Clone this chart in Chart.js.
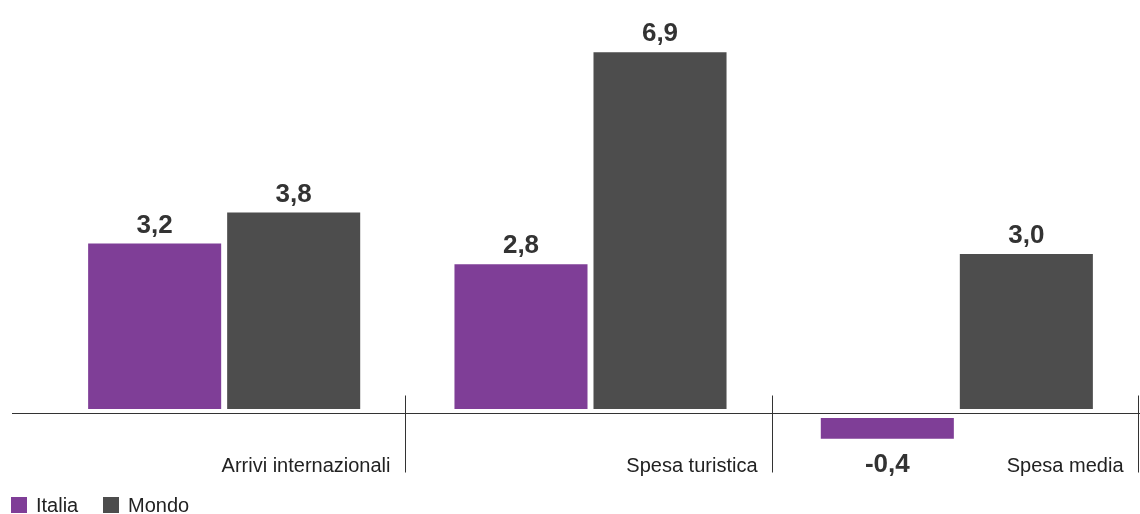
<!DOCTYPE html>
<html>
<head>
<meta charset="utf-8">
<script src="https://cdn.jsdelivr.net/npm/chart.js@4"></script>
<style>
html,body{margin:0;padding:0;background:#fff;}
#wrap{width:1140px;height:514px;position:relative;}
</style>
</head>
<body>
<div id="wrap"><canvas id="c"></canvas></div>
<script>
const categories = ["Arrivi internazionali", "Spesa turistica", "Spesa media"];
const seriesNames = ["Italia", "Mondo"];
const italia = [3.2, 2.8, -0.4];
const mondo = [3.8, 6.9, 3.0];
const colors = ["#7f3e97", "#4d4d4d"];

const FONT = "'Liberation Sans', Arial, sans-serif";
const TEXT = "#333333";
const GAP = 4.5;

const decor = {
  id: 'decor',
  afterDatasetsUpdate(chart) {
    chart.data.datasets.forEach((ds, di) => {
      const meta = chart.getDatasetMeta(di);
      meta.data.forEach((el, i) => {
        const v = ds.data[i];
        const s = v >= 0 ? -GAP : GAP;
        el.y += s;
        el.base += s;
      });
    });
  },
  beforeDatasetsDraw(chart) {
    const ctx = chart.ctx;
    const ca = chart.chartArea;
    const y0 = Math.round(chart.scales.y.getPixelForValue(0)) + 0.5;
    ctx.save();
    ctx.strokeStyle = "#333";
    ctx.lineWidth = 1;
    ctx.beginPath();
    ctx.moveTo(12, y0);
    ctx.lineTo(ca.right, y0);
    ctx.stroke();
    const n = categories.length;
    const cw = (ca.right - ca.left) / n;
    for (let k = 1; k <= n; k++) {
      let x = Math.round(ca.left + k * cw) - 1.5;
      ctx.beginPath();
      ctx.moveTo(x, y0 - 18);
      ctx.lineTo(x, y0 + 59);
      ctx.stroke();
      ctx.fillStyle = "#222";
      ctx.font = "20px " + FONT;
      ctx.textAlign = "right";
      ctx.textBaseline = "alphabetic";
      ctx.fillText(categories[k - 1], x - 15, y0 + 58);
    }
    ctx.restore();
  },
  afterDatasetsDraw(chart) {
    const ctx = chart.ctx;
    ctx.save();
    ctx.font = "bold 26px " + FONT;
    ctx.fillStyle = TEXT;
    ctx.textAlign = "center";
    ctx.textBaseline = "alphabetic";
    chart.data.datasets.forEach((ds, di) => {
      const meta = chart.getDatasetMeta(di);
      meta.data.forEach((el, i) => {
        const v = ds.data[i];
        const txt = v.toFixed(1).replace('.', ',');
        if (v >= 0) {
          ctx.fillText(txt, el.x, el.y - 11);
        } else {
          ctx.fillText(txt, el.x, el.y + 33);
        }
      });
    });
    // legend
    ctx.font = "20px " + FONT;
    ctx.textAlign = "left";
    ctx.textBaseline = "alphabetic";
    let lx = 11;
    chart.data.datasets.forEach((ds, di) => {
      ctx.fillStyle = ds.backgroundColor;
      ctx.fillRect(lx, 497, 16, 16);
      ctx.fillStyle = "#222";
      ctx.fillText(ds.label, lx + 25, 512);
      lx += 92;
    });
    ctx.restore();
  }
};

new Chart(document.getElementById('c'), {
  type: 'bar',
  data: {
    labels: categories,
    datasets: [
      { label: seriesNames[0], data: italia, backgroundColor: colors[0] },
      { label: seriesNames[1], data: mondo, backgroundColor: colors[1] }
    ]
  },
  options: {
    responsive: true,
    maintainAspectRatio: false,
    animation: false,
    events: [],
    datasets: { bar: { categoryPercentage: 0.759, barPercentage: 0.957 } },
    layout: { padding: { left: 41, right: 0, top: 0, bottom: 23 } },
    plugins: { legend: { display: false }, tooltip: { enabled: false } },
    scales: {
      x: { display: false },
      y: { display: false, min: -1.5, max: 8 }
    }
  },
  plugins: [decor]
});
</script>
</body>
</html>
